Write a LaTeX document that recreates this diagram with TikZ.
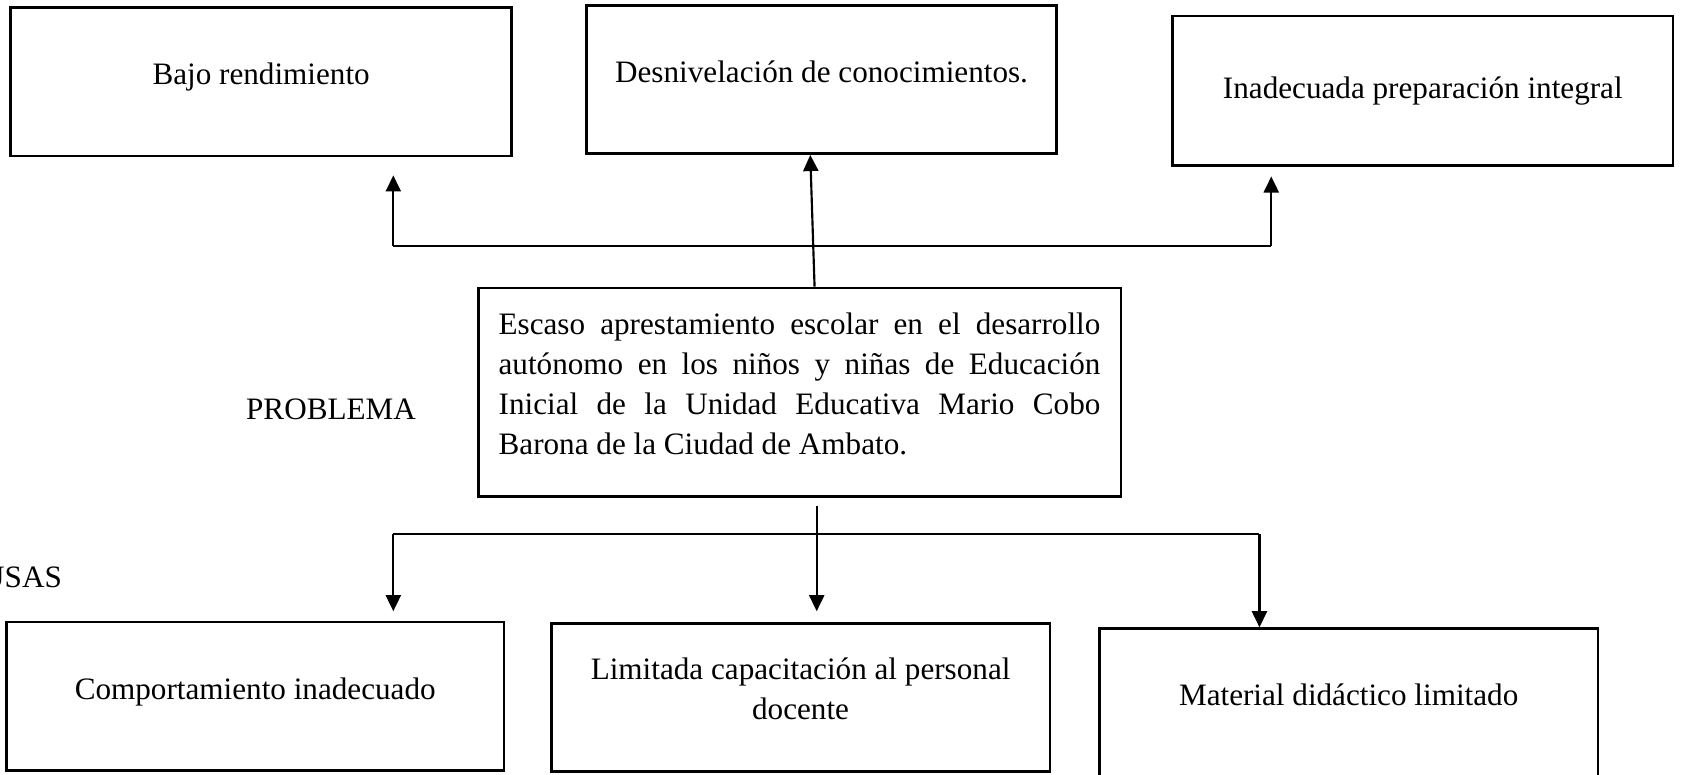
\documentclass[tikz,border=0pt]{standalone}
\usepackage{fontspec}
\setmainfont{Liberation Serif}
\usetikzlibrary{arrows.meta}
\tikzset{
  texto/.style={font=\fontsize{14.5pt}{18.5pt}\selectfont},
  caja/.style={texto, draw, line width=1.2pt, minimum height=69pt, inner sep=0pt, align=center,
    execute at end node={\rule[-#1]{0pt}{#1}}},
  caja/.default=7.5pt,
  flecha/.style={line width=1pt, -{Triangle[length=7.5pt,width=7pt]}},
  linea/.style={line width=0.6pt}
}
\begin{document}
\begin{tikzpicture}[x=0.5pt, y=-0.5pt]
\useasboundingbox (0,0) rectangle (1568,721);
\node[caja, minimum width=233pt] (efecto1) at (243,76) {Bajo rendimiento};
\node[caja, minimum width=218.5pt] (efecto2) at (764.5,74) {Desnivelación de conocimientos.};
\node[caja=3pt, minimum width=233pt, minimum height=69.5pt] (efecto3) at (1324,84.5) {Inadecuada preparación integral};
\node[caja=8pt, minimum width=299pt, minimum height=97pt, text width=280pt, align=justify] (prob) at (744,365) {Escaso aprestamiento escolar en el desarrollo\linebreak autónomo en los niños y niñas de Educación\linebreak Inicial de la Unidad Educativa Mario Cobo\linebreak Barona de la Ciudad de Ambato.};
\node[texto] (problema) at (308,381) {PROBLEMA};
\node[texto, anchor=east, inner xsep=0pt] (causas) at (58,537) {CAUSAS};
\node[caja, minimum width=231.5pt] (causa1) at (237.5,648) {Comportamiento inadecuado};
\node[caja=8.5pt, minimum width=232pt] (causa2) at (745,649) {Limitada capacitación al personal\\docente};
\node[caja, minimum width=232pt] (causa3) at (1255,654) {Material didáctico limitado};
\coordinate (eIzq) at (366,229);
\coordinate (eDer) at (1183,229);
\draw[linea] (eIzq) -- (eDer);
\draw[flecha, shorten >=8.5pt] (eIzq) -- (efecto1.south -| eIzq);
\draw[flecha, shorten >=4.5pt] (eDer) -- (efecto3.south -| eDer);
\draw[flecha] ([xshift=7pt]prob.north) -- ([xshift=-5.25pt]efecto2.south);
\coordinate (cIzq) at (366,497);
\coordinate (cDer) at (1172,497);
\draw[linea] (cIzq) -- (cDer);
\draw[flecha, shorten >=4.5pt] (cIzq) -- (causa1.north -| cIzq);
\draw[flecha, shorten <=4pt, shorten >=5pt] ([xshift=8pt]prob.south) -- ([xshift=7.5pt]causa2.north);
\draw[flecha] (cDer) -- (causa3.north -| cDer);
\end{tikzpicture}
\end{document}
